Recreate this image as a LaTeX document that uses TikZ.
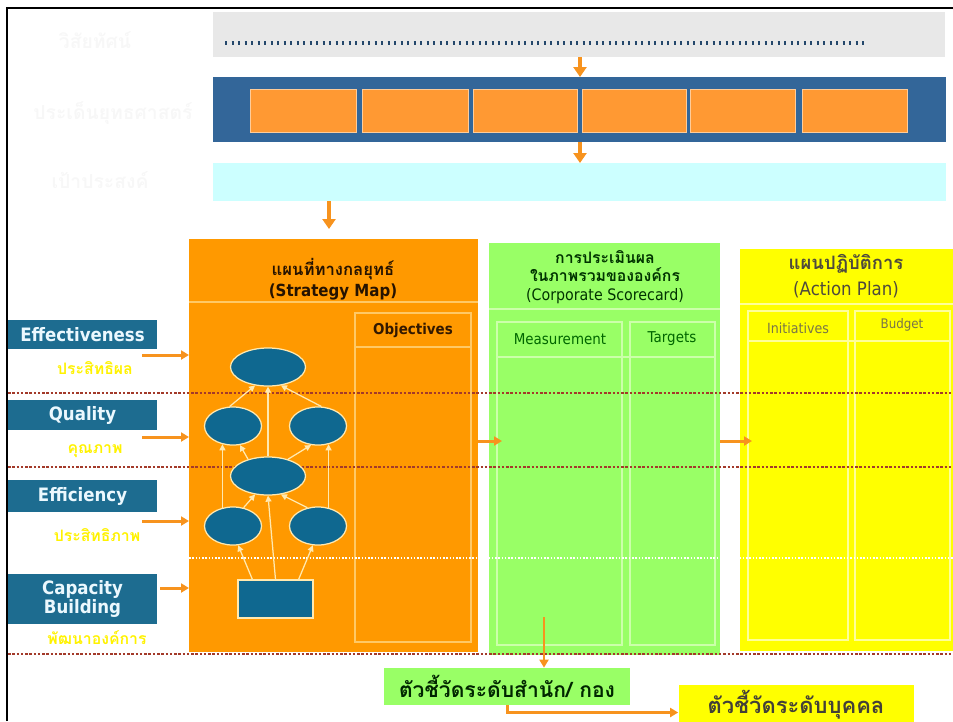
\documentclass[tikz,border=0pt]{standalone}
\usepackage{fontspec}
\setmainfont[FakeStretch=0.9]{DejaVu Sans}
\newfontfamily\thaifont[Script=Thai]{Loma}
\usepackage{xcolor}
\usepackage{tikz}
\usetikzlibrary{arrows.meta}
\usetikzlibrary{positioning}
\usetikzlibrary{fit}
\usetikzlibrary{shapes.geometric}

\definecolor{bandblue}{HTML}{336699}
\definecolor{tealblue}{HTML}{1D6C90}
\definecolor{mapblue}{HTML}{0F6890}
\definecolor{panelorange}{HTML}{FF9900}
\definecolor{boxorange}{HTML}{FF9933}
\definecolor{arroworange}{HTML}{F7931E}
\definecolor{scoregreen}{HTML}{99FF66}
\definecolor{planyellow}{HTML}{FFFF00}
\definecolor{goalcyan}{HTML}{CCFFFF}
\definecolor{visiongray}{HTML}{E8E8E8}
\definecolor{dotred}{HTML}{A33A2A}
\definecolor{cream}{HTML}{FFE9B0}
\definecolor{orangeline}{HTML}{FFC966}
\definecolor{greenline}{HTML}{CCFFAA}
\definecolor{yellowline}{HTML}{FFFF99}

\tikzset{
  area/.style={inner sep=0pt, outer sep=0pt, fill=#1},
  cell/.style={inner sep=0pt, outer sep=0pt, draw=#1, line width=0.3mm},
  issue/.style={inner sep=0pt, fill=boxorange, draw=orange!40, line width=0.2mm},
  kpi/.style={inner sep=0pt, fill=tealblue, text=cyan!8, align=center,
    font=\bfseries\fontsize{10.5}{11}\selectfont},
  thaiyellow/.style={text=yellow, font=\thaifont\bfseries\fontsize{9}{9}\selectfont},
  faded/.style={text=black!3, font=\thaifont\bfseries\fontsize{11}{11}\selectfont},
  goal/.style={ellipse, fill=mapblue, draw=cream, line width=0.25mm, minimum height=7.6mm},
  flow/.style={-{Triangle[length=1.6mm,width=1.8mm]}, draw=arroworange, line width=0.6mm},
  bigflow/.style={-{Triangle[length=2mm,width=2.6mm]}, draw=arroworange, line width=0.9mm},
  link/.style={-{Triangle[length=1.2mm,width=1.2mm]}, draw=cream, line width=0.25mm},
  rowline/.style={draw=dotred, line width=0.5mm, densely dotted},
}

\begin{document}
\begin{tikzpicture}[x=0.2mm, y=-0.2mm]
    \useasboundingbox (0,0) rectangle (953,721);
    % Frame
    \draw[line width=0.5mm] (7,721) -- (7,8) -- (953,8);

    % Vision band
    \node[area=visiongray, fit={(213,12) (945,57)}] (vision) {};
    \draw[draw=bandblue!70!black, line width=0.65mm, dash pattern=on 0.45mm off 0.85mm] (225,43) -- (865,43);
    \node[faded] (visionlbl) at (95,40) {วิสัยทัศน์};

    % Strategic issues band
    \node[area=bandblue, fit={(213,77) (946,142)}] (issues) {};
    \foreach \l/\r [count=\i] in {250/356,362/468,473/577,582/686,690/795,802/907}
        \node[issue, fit={(\l,89) (\r,132)}] (issue\i) {};
    \node[faded] (issuelbl) at (113,113) {ประเด็นยุทธศาสตร์};

    % Goals band
    \node[area=goalcyan, fit={(213,163) (946,201)}] (goals) {};
    \node[faded] (goallbl) at (100,180) {เป้าประสงค์};

    % Strategy map panel
    \node[area=panelorange, fit={(189,239) (478,652)}] (strat) {};
    \draw[orangeline, line width=0.3mm] (189,302) -- (478,302);
    \node[cell=orangeline, fit={(355,313) (471,642)}] (obj) {};
    \draw[orangeline, line width=0.3mm] (355,347) -- (471,347);
    \node[align=center, text=black!85!orange, font=\bfseries\fontsize{9.5}{12}\selectfont] (strattitle) at (333,279)
        {{\thaifont แผนที่ทางกลยุทธ์}\\(Strategy Map)};
    \node[text=black!80!orange, font=\bfseries\fontsize{8.5}{9}\selectfont] (objtitle) at (413,330) {Objectives};

    % Corporate scorecard panel
    \node[area=scoregreen, fit={(489,243) (720,655)}] (score) {};
    \draw[greenline, line width=0.3mm] (489,309) -- (720,309);
    \node[cell=greenline, fit={(497,322) (622,645)}] (measure) {};
    \node[cell=greenline, fit={(630,322) (715,645)}] (target) {};
    \draw[greenline, line width=0.3mm] (497,357) -- (715,357);
    \node[align=center, text=black!80!green, font=\fontsize{9}{10.5}\selectfont] (scoretitle) at (605,277)
        {{\thaifont\bfseries การประเมินผล}\\{\thaifont\bfseries ในภาพรวมขององค์กร}\\(Corporate Scorecard)};
    \node[text=black!60!green, font=\fontsize{8.5}{9}\selectfont] (measuretitle) at (560,339) {Measurement};
    \node[text=black!60!green, font=\fontsize{8.5}{9}\selectfont] (targettitle) at (672,339) {Targets};

    % Action plan panel
    \node[area=planyellow, fit={(740,249) (953,651)}] (plan) {};
    \draw[yellowline, line width=0.3mm] (740,304) -- (953,304);
    \node[cell=yellowline, fit={(748,311) (848,640)}] (init) {};
    \node[cell=yellowline, fit={(855,311) (950,640)}] (budget) {};
    \draw[yellowline, line width=0.3mm] (748,341) -- (950,341);
    \node[align=center, text=black!80!yellow, font=\fontsize{10.5}{15}\selectfont] (plantitle) at (846,276)
        {{\thaifont\bfseries แผนปฏิบัติการ}\\(Action Plan)};
    \node[text=black!60!yellow, font=\fontsize{8}{9}\selectfont] (inittitle) at (798,328) {Initiatives};
    \node[text=black!60!yellow, font=\fontsize{7.5}{9}\selectfont] (budgettitle) at (902,325) {Budget};

    % Row separators
    \draw[rowline] (8,393) -- (953,393);
    \draw[rowline] (8,467) -- (953,467);
    \draw[rowline] (8,654) -- (953,654);
    \draw[white, line width=0.3mm, densely dotted] (189,558) -- (953,558);

    % Perspectives
    \node[kpi, minimum width=29.8mm, minimum height=5.8mm] (eff) at (82.5,334.5) {Effectiveness};
    \node[kpi, minimum width=29.8mm, minimum height=6mm] (qual) at (82.5,415) {Quality};
    \node[kpi, minimum width=29.8mm, minimum height=6.4mm] (effi) at (82.5,496) {Efficiency};
    \node[kpi, minimum width=29.8mm, minimum height=10mm, font=\bfseries\fontsize{10.5}{10}\selectfont] (cap) at (82.5,599) {Capacity\\Building};
    \node[thaiyellow] (effth) at (95,368) {ประสิทธิผล};
    \node[thaiyellow] (qualth) at (95,451) {คุณภาพ};
    \node[thaiyellow] (effith) at (97,535) {ประสิทธิภาพ};
    \node[thaiyellow] (capth) at (97,638) {พัฒนาองค์การ};

    % Strategy map goals
    \node[goal, minimum width=15mm] (g1) at (268,367) {};
    \node[goal, minimum width=11.4mm] (g2) at (233,426) {};
    \node[goal, minimum width=11.4mm] (g3) at (318,426) {};
    \node[goal, minimum width=15mm] (g4) at (268,476) {};
    \node[goal, minimum width=11.4mm] (g5) at (233,526) {};
    \node[goal, minimum width=11.4mm] (g6) at (318,526) {};
    \node[fill=mapblue, draw=cream, line width=0.25mm, minimum width=15mm, minimum height=7.6mm] (base) at (275.5,599) {};
    \draw[link] (g4.north) -- (g1.south);
    \draw[link] (g2.100) -- (g1.235);
    \draw[link] (g3.80) -- (g1.-55);
    \draw[link] (g4.140) -- (g2.-70);
    \draw[link] (g4.40) -- (g3.-110);
    \draw[link] (g5.120) -- (g2.-120);
    \draw[link] (g6.60) -- (g3.-60);
    \draw[link] (g5.60) -- (g4.-125);
    \draw[link] (g6.120) -- (g4.-55);
    \draw[link] (base.north) -- (g4.south);
    \draw[link] ([xshift=3mm]base.north west) -- (g5.-75);
    \draw[link] ([xshift=-3mm]base.north east) -- (g6.-105);

    % Flow arrows
    \coordinate (split) at (580,0);
    \coordinate (down) at (329,0);
    \draw[bigflow] (vision.south -| split) -- (issues.north -| split);
    \draw[bigflow] (issues.south -| split) -- (goals.north -| split);
    \draw[bigflow] (goals.south -| down) -- ([yshift=2mm]strat.north -| down);
    \coordinate (effin) at (142,355);
    \coordinate (qualin) at (142,437);
    \coordinate (effiin) at (142,521);
    \coordinate (capin) at (160,588);
    \foreach \c in {effin,qualin,effiin,capin}
        \draw[flow] (\c) -- (\c -| strat.west);
    \coordinate (mid) at (0,441);
    \draw[flow] (strat.east |- mid) -- ([xshift=2.6mm]score.west |- mid);
    \draw[flow] (score.east |- mid) -- ([xshift=2.4mm]plan.west |- mid);

    % Indicator levels
    \node[fill=scoregreen, minimum width=49.2mm, minimum height=7.4mm, text=black!85!green,
        font=\thaifont\bfseries\fontsize{12}{12}\selectfont] (unitkpi) at (507,686.5) {ตัวชี้วัดระดับสำนัก/ กอง};
    \node[fill=planyellow, minimum width=47mm, minimum height=7.2mm, text=black!85!yellow,
        font=\thaifont\bfseries\fontsize{12.5}{13}\selectfont] (personkpi) at (796,705) {ตัวชี้วัดระดับบุคคล};
    \coordinate (unitsrc) at (544,617);
    \draw[flow, line width=0.45mm] (unitsrc) -- (unitkpi.north -| unitsrc);
    \draw[flow] (unitkpi.south) |- ([yshift=-1.5mm]personkpi.west);
\end{tikzpicture}
\end{document}
